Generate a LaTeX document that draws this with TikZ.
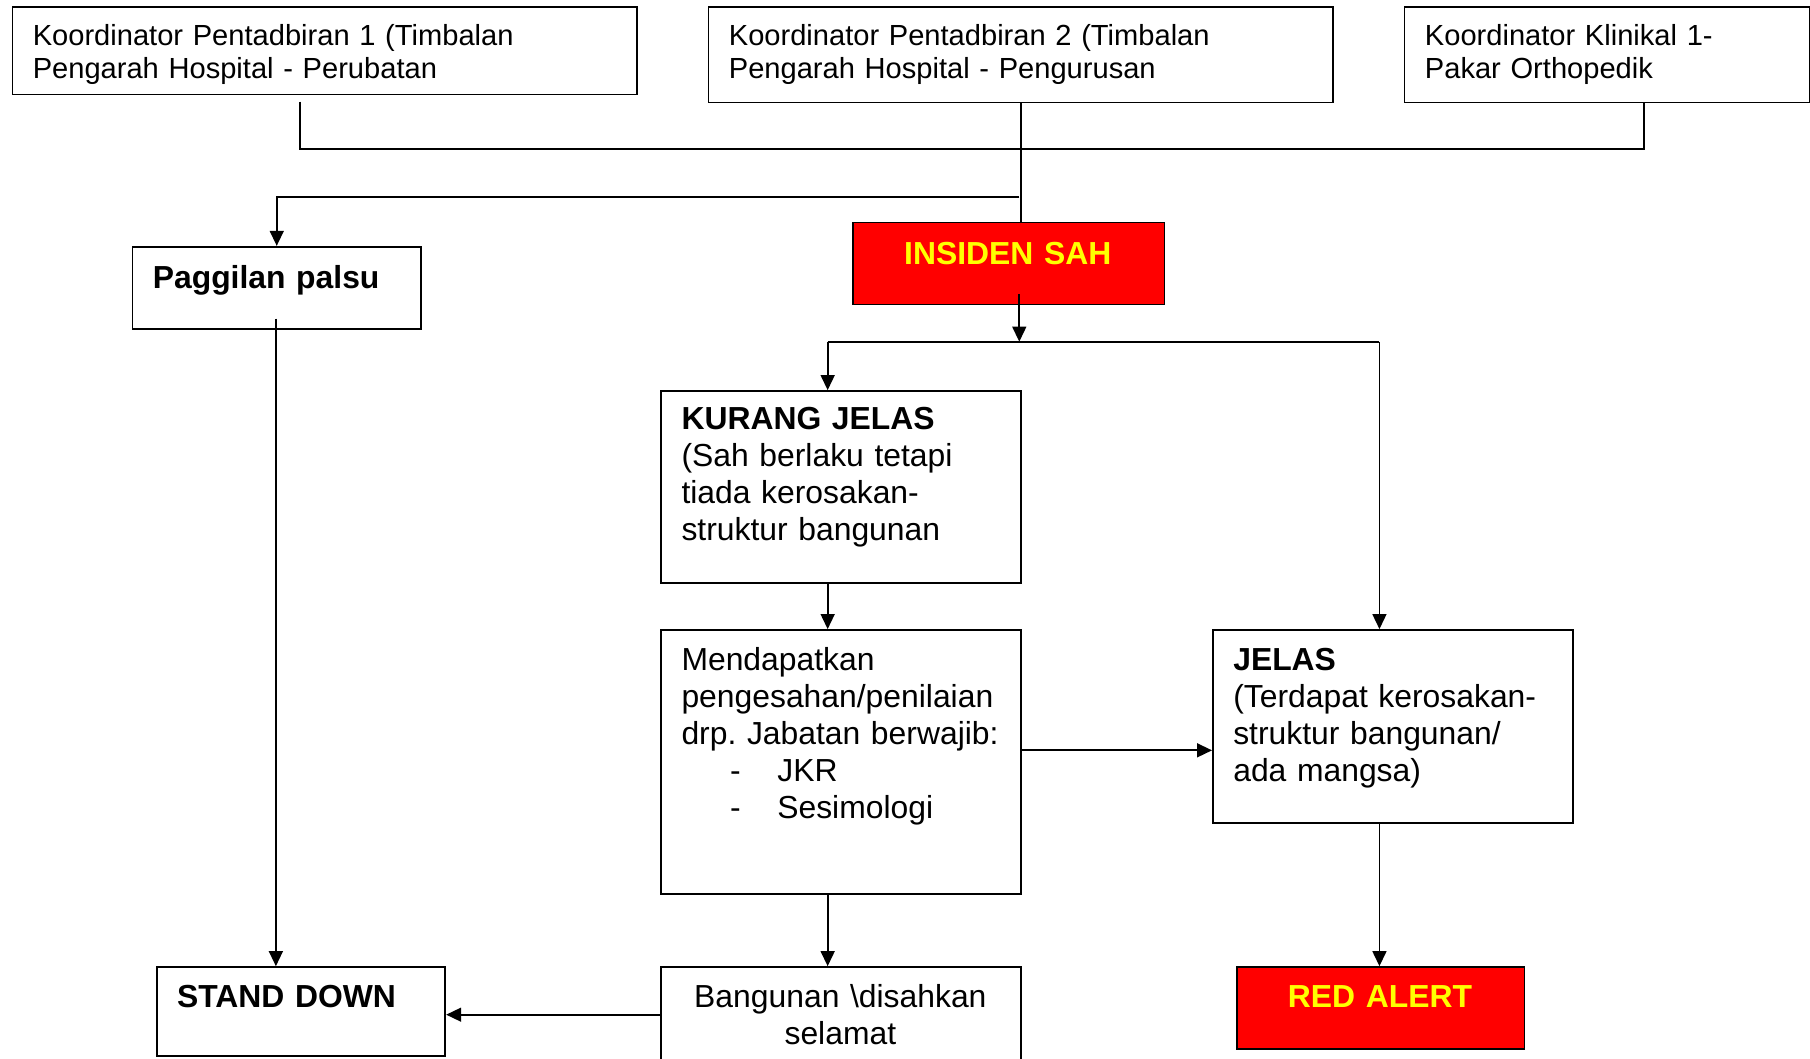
\documentclass[tikz,border=0pt]{standalone}
\usepackage{fontspec}
\setmainfont{Liberation Sans}
\usetikzlibrary{arrows.meta,calc}
\definecolor{alertred}{RGB}{255,0,0}
\definecolor{alertyel}{RGB}{255,255,0}
\newcommand\myTopFont{\fontsize{12.6}{14.5}\selectfont}
\newcommand\myMainFont{\fontsize{13.8}{16}\selectfont}
\frenchspacing
\begin{document}
\begin{tikzpicture}[x=0.5pt,y=-0.5pt,
  box/.style={draw, line width=0.75pt, inner sep=0pt, anchor=north west, fill=white},
  redbox/.style={box, fill=alertred},
  ltext/.style={inner sep=0pt, anchor=base west, text width=#1, align=left},
  ctext/.style={inner sep=0pt, anchor=base, text width=#1, align=center},
  conn/.style={line width=0.8pt},
  arr/.style={conn, -{Triangle[length=6.5pt,width=6pt]}}]
\useasboundingbox (0,0) rectangle (1568,917);

% boxes
\node[box, minimum width=270.5pt, minimum height=38pt]   (k1) at (10,5) {};
\node[box, minimum width=270.5pt, minimum height=41.5pt] (k2) at (613,5) {};
\node[box, minimum width=175.5pt, minimum height=41.5pt] (k3) at (1216,5) {};
\node[box, minimum width=125pt, minimum height=35.5pt]   (pp) at (114,213) {};
\node[redbox, minimum width=135pt, minimum height=35.5pt] (ins) at (738,192) {};
\node[box, minimum width=156pt, minimum height=83pt]     (kj) at (572,338) {};
\node[box, minimum width=156pt, minimum height=114.5pt]  (md) at (572,545) {};
\node[box, minimum width=156pt, minimum height=83.5pt]   (jl) at (1050,545) {};
\node[redbox, minimum width=124.5pt, minimum height=35.5pt] (ra) at (1071,837) {};
\node[box, minimum width=156pt, minimum height=46.5pt]   (bg) at (572,837) {};
\node[box, minimum width=125pt, minimum height=38.5pt]   (sd) at (135,837) {};

% texts
\node[ltext=260pt, font=\myTopFont] (k1t) at (28,39) {Koordinator Pentadbiran 1 (Timbalan\\Pengarah Hospital - Perubatan};
\node[ltext=260pt, font=\myTopFont] (k2t) at (631,39) {Koordinator Pentadbiran 2 (Timbalan\\Pengarah Hospital - Pengurusan};
\node[ltext=165pt, font=\myTopFont] (k3t) at (1234,39) {Koordinator Klinikal 1-\\Pakar Orthopedik};
\node[ltext=120pt, font=\myMainFont\bfseries] (ppt) at (132,250) {Paggilan palsu};
\node[ctext=130pt, font=\myMainFont\bfseries, text=alertyel] (inst) at (873,229) {INSIDEN SAH};
\node[ltext=150pt, font=\myMainFont] (kjt) at (590,372) {\textbf{KURANG JELAS}\\(Sah berlaku tetapi\\tiada kerosakan-\\struktur bangunan};
\node[ltext=150pt, font=\myMainFont] (mdt) at (590,581) {Mendapatkan\\pengesahan/penilaian\\drp. Jabatan berwajib:\\\makebox[41.5pt][l]{\hspace*{21pt}-}JKR\\\makebox[41.5pt][l]{\hspace*{21pt}-}Sesimologi};
\node[ltext=150pt, font=\myMainFont] (jlt) at (1068,581) {\textbf{JELAS}\\(Terdapat kerosakan-\\struktur bangunan/\\ada mangsa)};
\node[ctext=120pt, font=\myMainFont\bfseries, text=alertyel] (rat) at (1195.5,873) {RED ALERT};
\node[ctext=150pt, font=\myMainFont] (bgt) at (728,873) {Bangunan \textbackslash disahkan\\selamat};
\node[ltext=120pt, font=\myMainFont\bfseries] (sdt) at (153,873) {STAND DOWN};

% connector points
\coordinate (j1) at (260,88);
\coordinate (bus) at (883,129);
\coordinate (k3bus) at (1424,129);
\coordinate (br) at (883,171);
\coordinate (insout) at (883,255);
\coordinate (split) at (883,296);
\coordinate (sl) at (717,296);
\coordinate (sr) at (1195,296);
\coordinate (mj) at (884,650);
\coordinate (bs) at (572,879);
\coordinate (ppout) at (239,276);

% connectors
\draw[conn] (j1) |- (k3bus) -- (k3bus |- k3.south);
\draw[conn] (k2.south) -- (k2.south |- ins.north);
\draw[arr] (br) -| (pp.north);
\draw[arr] (insout) -- (split);
\draw[conn] (sl) -- (sr);
\draw[arr] (sl) -- (sl |- kj.north);
\draw[arr] (sr) -- (sr |- jl.north);
\draw[arr] (sl |- kj.south) -- (sl |- md.north);
\draw[arr] (mj) -- (mj -| jl.west);
\draw[arr] (sr |- jl.south) -- (sr |- ra.north);
\draw[arr] (sl |- md.south) -- (sl |- bg.north);
\draw[arr] (bs) -- (bs -| sd.east);
\draw[arr] (ppout) -- (ppout |- sd.north);
\end{tikzpicture}
\end{document}
